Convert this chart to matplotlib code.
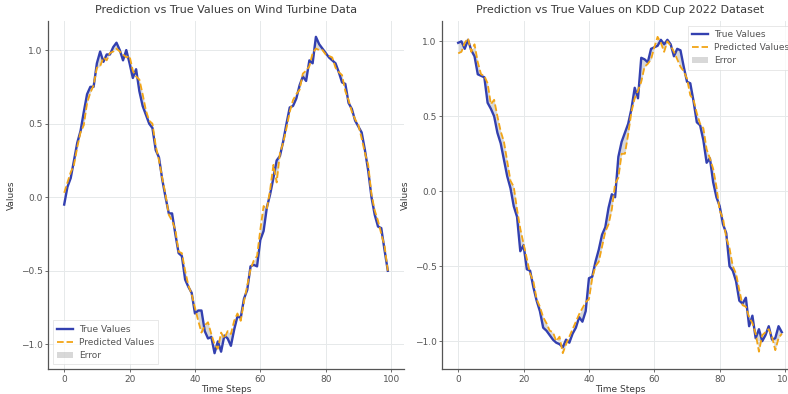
import matplotlib
matplotlib.use("Agg")
import matplotlib.pyplot as plt
import numpy as np

# values, one per time step (0..99)
wind_true = [
    -0.05, 0.07, 0.13, 0.25, 0.37, 0.45, 0.58, 0.70, 0.75, 0.75,
    0.91, 0.99, 0.92, 0.97, 0.97, 1.02, 1.05, 1.00, 0.93, 1.00,
    0.91, 0.81, 0.87, 0.72, 0.62, 0.56, 0.50, 0.47, 0.32, 0.27,
    0.12, 0.00, -0.11, -0.11, -0.25, -0.38, -0.40, -0.56, -0.61, -0.65,
    -0.79, -0.77, -0.77, -0.91, -0.96, -0.95, -1.06, -0.98, -1.05, -0.94,
    -0.96, -1.01, -0.90, -0.81, -0.82, -0.69, -0.63, -0.47, -0.46, -0.47,
    -0.29, -0.23, -0.07, 0.02, 0.13, 0.25, 0.28, 0.38, 0.50, 0.61,
    0.62, 0.67, 0.76, 0.82, 0.79, 0.93, 0.91, 1.09, 1.04, 1.01,
    0.98, 0.95, 0.93, 0.91, 0.85, 0.78, 0.77, 0.64, 0.60, 0.52,
    0.48, 0.44, 0.32, 0.18, 0.00, -0.12, -0.20, -0.21, -0.36, -0.50,
]
wind_pred = [
    0.03, 0.10, 0.17, 0.22, 0.34, 0.44, 0.49, 0.64, 0.71, 0.76,
    0.88, 0.89, 0.95, 0.93, 0.98, 0.99, 1.01, 0.99, 0.97, 0.95,
    0.96, 0.86, 0.82, 0.80, 0.70, 0.59, 0.52, 0.50, 0.35, 0.25,
    0.13, 0.02, -0.12, -0.16, -0.22, -0.37, -0.38, -0.50, -0.60, -0.66,
    -0.75, -0.84, -0.92, -0.87, -0.85, -0.93, -1.00, -1.03, -0.92, -0.96,
    -0.91, -0.93, -0.84, -0.79, -0.84, -0.71, -0.60, -0.49, -0.43, -0.40,
    -0.22, -0.06, -0.08, 0.05, 0.22, 0.10, 0.30, 0.37, 0.47, 0.58,
    0.66, 0.70, 0.73, 0.84, 0.86, 0.89, 0.98, 1.01, 1.00, 1.00,
    0.97, 0.96, 0.95, 0.88, 0.85, 0.83, 0.72, 0.66, 0.58, 0.53,
    0.49, 0.40, 0.30, 0.22, 0.02, -0.09, -0.16, -0.25, -0.33, -0.50,
]
kdd_true = [
    0.99, 1.00, 0.95, 1.01, 0.94, 0.90, 0.78, 0.77, 0.76, 0.59,
    0.55, 0.50, 0.39, 0.32, 0.21, 0.10, 0.02, -0.10, -0.17, -0.40,
    -0.36, -0.52, -0.53, -0.64, -0.73, -0.80, -0.91, -0.93, -0.96, -0.99,
    -1.01, -1.02, -1.04, -0.99, -1.01, -0.95, -0.91, -0.84, -0.87, -0.80,
    -0.58, -0.57, -0.47, -0.39, -0.29, -0.24, -0.11, -0.02, -0.04, 0.23,
    0.33, 0.39, 0.45, 0.55, 0.69, 0.62, 0.89, 0.88, 0.86, 0.95,
    0.96, 0.97, 1.01, 0.98, 1.01, 0.98, 0.90, 0.95, 0.94, 0.83,
    0.73, 0.72, 0.60, 0.46, 0.44, 0.34, 0.19, 0.22, 0.06, -0.04,
    -0.10, -0.22, -0.28, -0.50, -0.53, -0.60, -0.73, -0.75, -0.71, -0.90,
    -0.83, -0.98, -0.92, -1.00, -0.96, -0.90, -0.99, -0.98, -0.90, -0.94,
]
kdd_pred = [
    0.92, 0.93, 0.99, 1.02, 0.93, 0.98, 0.86, 0.78, 0.77, 0.72,
    0.58, 0.61, 0.50, 0.40, 0.33, 0.20, 0.07, 0.03, -0.12, -0.25,
    -0.35, -0.45, -0.55, -0.60, -0.72, -0.77, -0.84, -0.88, -0.93, -0.94,
    -1.00, -0.97, -1.08, -1.02, -0.97, -0.92, -0.87, -0.82, -0.78, -0.74,
    -0.72, -0.58, -0.50, -0.47, -0.37, -0.27, -0.22, -0.12, 0.05, 0.09,
    0.25, 0.25, 0.38, 0.53, 0.62, 0.67, 0.73, 0.83, 0.85, 0.88,
    0.96, 1.03, 0.99, 0.93, 1.00, 0.97, 0.93, 0.88, 0.83, 0.80,
    0.75, 0.64, 0.61, 0.52, 0.45, 0.42, 0.28, 0.22, 0.15, 0.03,
    -0.13, -0.18, -0.31, -0.38, -0.50, -0.55, -0.66, -0.76, -0.77, -0.84,
    -0.88, -0.95, -1.07, -0.96, -0.94, -0.92, -0.97, -1.06, -0.98, -0.95,
]
time_steps = list(range(len(wind_true)))

TRUE_COLOR = "#3340b0"
PRED_COLOR = "#f2a516"
TEXT_COLOR = "#3a3a3a"


def draw_panel(ax, t, y_true, y_pred, title, legend_loc):
    ax.plot(t, y_true, color=TRUE_COLOR, lw=1.7, label="True Values")
    ax.plot(t, y_pred, color=PRED_COLOR, lw=1.3, ls="--", label="Predicted Values")
    ax.fill_between(t, y_true, y_pred, color="gray", alpha=0.3, lw=0, label="Error")
    ax.set_title(title, fontsize=8, color=TEXT_COLOR, pad=6)
    ax.set_xlabel("Time Steps", fontsize=6.5, color=TEXT_COLOR, labelpad=1)
    ax.set_ylabel("Values", fontsize=6.5, color=TEXT_COLOR, labelpad=3)
    ax.set_yticks([-1.0, -0.5, 0.0, 0.5, 1.0])
    ax.set_xticks([0, 20, 40, 60, 80, 100])
    ax.tick_params(labelsize=6.5, colors="#555555", length=2, width=0.6, pad=2)
    ax.grid(True, color="#e6e9ea", lw=0.7)
    for side in ("top", "right"):
        ax.spines[side].set_visible(False)
    for side in ("left", "bottom"):
        ax.spines[side].set_color("#555555")
        ax.spines[side].set_linewidth(0.9)
    leg = ax.legend(loc=legend_loc, fontsize=6.5, frameon=True, fancybox=False,
                    borderpad=0.5, handlelength=1.8, handletextpad=0.6,
                    labelspacing=0.45)
    leg.get_frame().set_edgecolor("#dddddd")
    leg.get_frame().set_linewidth(0.6)
    for txt in leg.get_texts():
        txt.set_color("#555555")


fig = plt.figure(figsize=(7.88, 3.94), dpi=100)
ax1 = fig.add_axes([48 / 788, 25 / 394, 356 / 788, 348 / 394])
ax2 = fig.add_axes([442 / 788, 25 / 394, 356 / 788, 348 / 394])

draw_panel(ax1, time_steps, wind_true, wind_pred,
           "Prediction vs True Values on Wind Turbine Data", "lower left")
draw_panel(ax2, time_steps, kdd_true, kdd_pred,
           "Prediction vs True Values on KDD Cup 2022 Dataset", "upper right")

fig.savefig("out.png", dpi=100)
